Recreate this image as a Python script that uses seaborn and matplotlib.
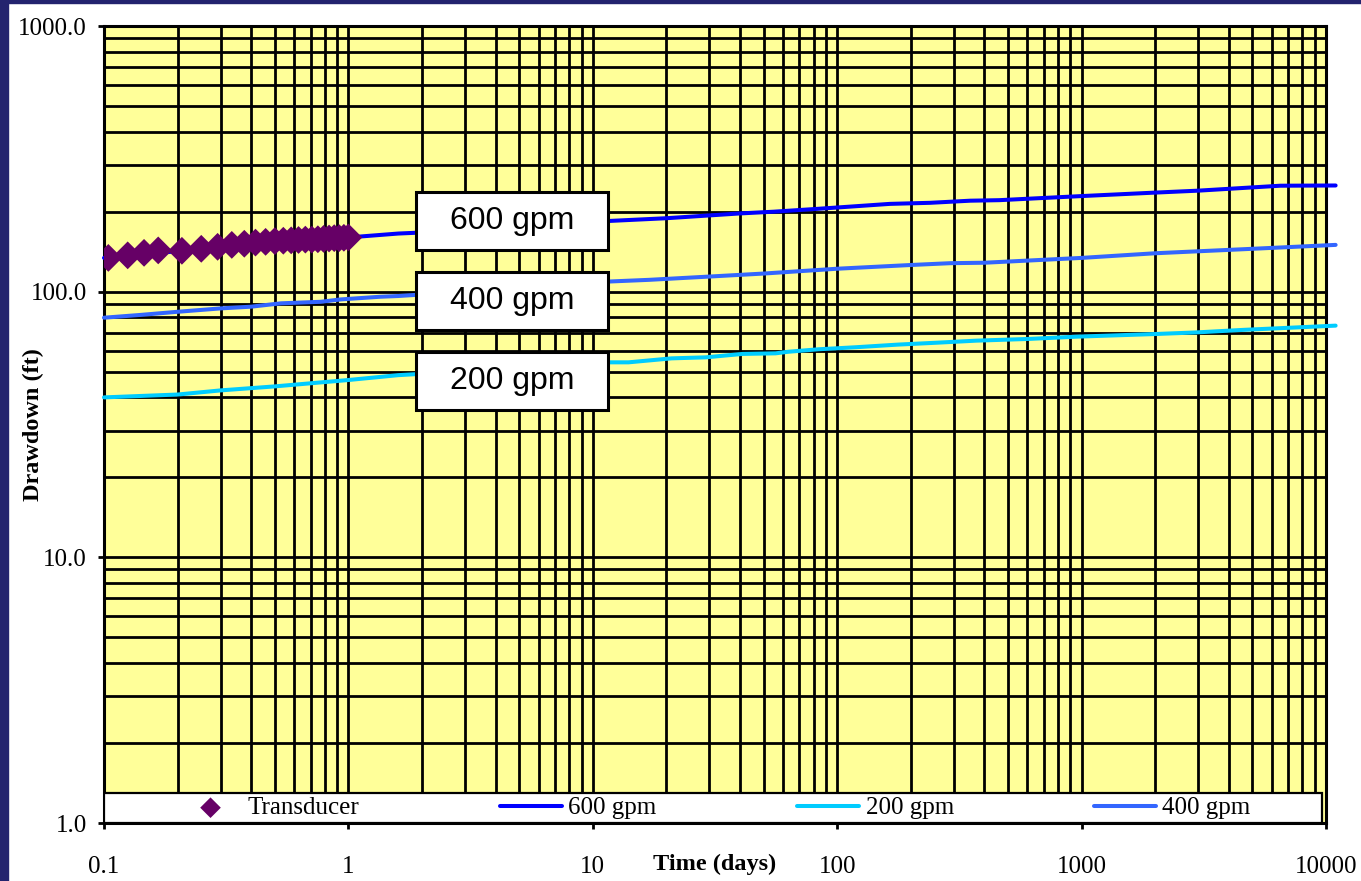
import matplotlib
matplotlib.use("Agg")
import matplotlib.pyplot as plt
from matplotlib.patches import Rectangle
import numpy as np
import pandas as pd
import seaborn as sns

# ---- data -------------------------------------------------------------
transducer_hours = [2.5, 3, 3.5, 4, 5, 6, 7, 8, 9, 10, 11, 12, 13, 14, 15,
                    16, 17, 18, 19, 20, 21, 22, 23, 24]
transducer_dd = [134, 137, 140, 143, 142.5, 145, 147.5, 150, 151.5, 153, 154,
                 155, 155.5, 156, 156.5, 157, 157, 157.5, 158, 158.5, 159, 159,
                 159.5, 160]

t600 = [0.1, 0.2, 0.3, 0.5, 0.7, 1.0, 1.6, 2, 5, 11.7, 20, 40, 55, 83, 113,
        164, 240, 350, 460, 1000, 2000, 3000, 6500, 10950]
dd600 = [134, 142, 147, 153, 157, 160, 165.5, 167, 177, 184.6, 189, 197, 200,
         205, 209, 214, 216, 220, 221, 229, 236, 240, 250.5, 251]

t400 = [0.1, 0.14, 0.2, 0.3, 0.4, 0.53, 0.77, 0.93, 1.35, 1.6, 5, 11.7, 17, 30,
        50, 100, 200, 290, 400, 1000, 2000, 5000, 10950]
dd400 = [79.8, 81.7, 84, 86.5, 87.8, 90.4, 91.6, 93.5, 95.7, 96.3, 103, 109.2,
         110.8, 114, 117, 122, 126, 128, 128.5, 134, 139.5, 145, 150]

t200 = [0.1, 0.2, 0.3, 0.5, 1.0, 1.6, 5, 11.7, 14, 21, 29, 41, 56, 63, 84, 120,
        177, 260, 370, 610, 950, 1940, 2910, 4570, 10950]
dd200 = [40, 41, 42.5, 44, 46.5, 48.5, 51.5, 54.2, 54.2, 56.1, 56.6, 58.3, 58.6,
         59.4, 60.7, 61.8, 63.2, 64.3, 65.4, 66.4, 67.7, 69.2, 70.2, 71.8, 74.5]

x_ticks = [0.1, 1, 10, 100, 1000, 10000]
x_tick_labels = ["0.1", "1", "10", "100", "1000", "10000"]
y_ticks = [1, 10, 100, 1000]
y_tick_labels = ["1.0", "10.0", "100.0", "1000.0"]

rate_labels = ["600 gpm", "400 gpm", "200 gpm"]

# ---- styling ----------------------------------------------------------
sns.set_style("ticks")
plt.rcParams["font.family"] = ["Liberation Serif", "DejaVu Serif"]
plt.rcParams["text.color"] = "black"
plt.rcParams["axes.labelcolor"] = "black"
plt.rcParams["xtick.color"] = "black"
plt.rcParams["ytick.color"] = "black"

W, H = 1361, 881
fig = plt.figure(figsize=(W / 100, H / 100), dpi=100, facecolor="white")

# navy page edge
fig.patches.append(Rectangle((0, 0), 8 / W, 1, transform=fig.transFigure,
                             color="#23236E", zorder=0))
fig.patches.append(Rectangle((0, 1 - 3 / H), 1, 3 / H, transform=fig.transFigure,
                             color="#23236E", zorder=0))

ax_l, ax_r, ax_t, ax_b = 104, 1326, 26, 823
ax = fig.add_axes([ax_l / W, 1 - ax_b / H, (ax_r - ax_l) / W, (ax_b - ax_t) / H])
ax.set_facecolor("#FFFF99")
ax.set_xscale("log")
ax.set_yscale("log")
ax.set_xlim(0.1, 10000)
ax.set_ylim(1, 1000)

# ---- series -----------------------------------------------------------
df_tr = pd.DataFrame({"t": np.array(transducer_hours) / 24.0, "dd": transducer_dd})
df600 = pd.DataFrame({"t": t600, "dd": dd600})
df400 = pd.DataFrame({"t": t400, "dd": dd400})
df200 = pd.DataFrame({"t": t200, "dd": dd200})

lw = 2.9
sns.lineplot(data=df600, x="t", y="dd", ax=ax, color="#0000FF", lw=lw,
             estimator=None, sort=False, label="600 gpm", clip_on=False, zorder=3)
sns.lineplot(data=df200, x="t", y="dd", ax=ax, color="#00CCFF", lw=lw,
             estimator=None, sort=False, label="200 gpm", clip_on=False, zorder=3)
sns.lineplot(data=df400, x="t", y="dd", ax=ax, color="#3366FF", lw=lw,
             estimator=None, sort=False, label="400 gpm", clip_on=False, zorder=3)
sns.scatterplot(data=df_tr, x="t", y="dd", ax=ax, marker="D", s=200,
                color="#660066", edgecolor="none", label="Transducer", zorder=4)

# ---- grid, ticks, spines ----------------------------------------------
ax.set_axisbelow(True)
ax.grid(which="both", color="black", linewidth=2.0)
ax.set_xticks(x_ticks)
ax.set_xticklabels(x_tick_labels)
ax.set_yticks(y_ticks)
ax.set_yticklabels(y_tick_labels)
ax.tick_params(which="major", direction="out", length=4.5, width=2.0,
               labelsize=18, color="black", labelcolor="black")
ax.tick_params(axis="x", which="major", pad=19)
ax.tick_params(axis="y", which="major", pad=8)
ax.tick_params(which="minor", length=0)
for s in ax.spines.values():
    s.set_visible(True)
    s.set_color("black")
    s.set_linewidth(2.2)

ax.set_xlabel("Time (days)", fontsize=17.5, fontweight="bold", color="black")
ax.set_ylabel("Drawdown (ft)", fontsize=17.5, fontweight="bold", color="black")
ax.xaxis.set_label_coords(0.5, -0.039)
ax.yaxis.set_label_coords(-0.049, 0.5)

# ---- rate labels in boxes ---------------------------------------------
box_w, box_h = 192, 58
box_cx = 512
box_cy = [221, 301, 381]
for lab, cy in zip(rate_labels, box_cy):
    x0 = (box_cx - box_w / 2 - ax_l) / (ax_r - ax_l)
    y0 = (ax_b - cy - box_h / 2) / (ax_b - ax_t)
    ax.add_patch(Rectangle((x0 + 0.0015, y0 - 0.0025), box_w / (ax_r - ax_l),
                           box_h / (ax_b - ax_t), transform=ax.transAxes,
                           facecolor="#808080", edgecolor="none", zorder=5))
    ax.add_patch(Rectangle((x0, y0), box_w / (ax_r - ax_l), box_h / (ax_b - ax_t),
                           transform=ax.transAxes, facecolor="white",
                           edgecolor="black", linewidth=2.2, zorder=6))
    ax.text((box_cx - ax_l) / (ax_r - ax_l), (ax_b - cy) / (ax_b - ax_t), lab,
            transform=ax.transAxes, ha="center", va="center", fontsize=23,
            family=["Liberation Sans", "DejaVu Sans"], color="black", zorder=7)

# ---- legend strip -----------------------------------------------------
leg_h = 30 / (ax_b - ax_t)
leg_w = (1322 - ax_l) / (ax_r - ax_l)
ax.add_patch(Rectangle((0, 0), leg_w, leg_h, transform=ax.transAxes,
                       facecolor="white", edgecolor="black", linewidth=1.6,
                       zorder=8))
handles, labels = ax.get_legend_handles_labels()
order = ["Transducer", "600 gpm", "200 gpm", "400 gpm"]
hmap = dict(zip(labels, handles))
leg = ax.legend([hmap[k] for k in order], order, loc="center",
                bbox_to_anchor=(0.5, leg_h / 2), ncol=4, frameon=False,
                fontsize=18, handlelength=2.5, handletextpad=0.25,
                columnspacing=5.6, borderpad=0.0, borderaxespad=0.0,
                labelcolor="black")
leg.set_zorder(9)
leg.legend_handles[0].set_sizes([110])

fig.savefig("out.png", dpi=100, facecolor="white")
